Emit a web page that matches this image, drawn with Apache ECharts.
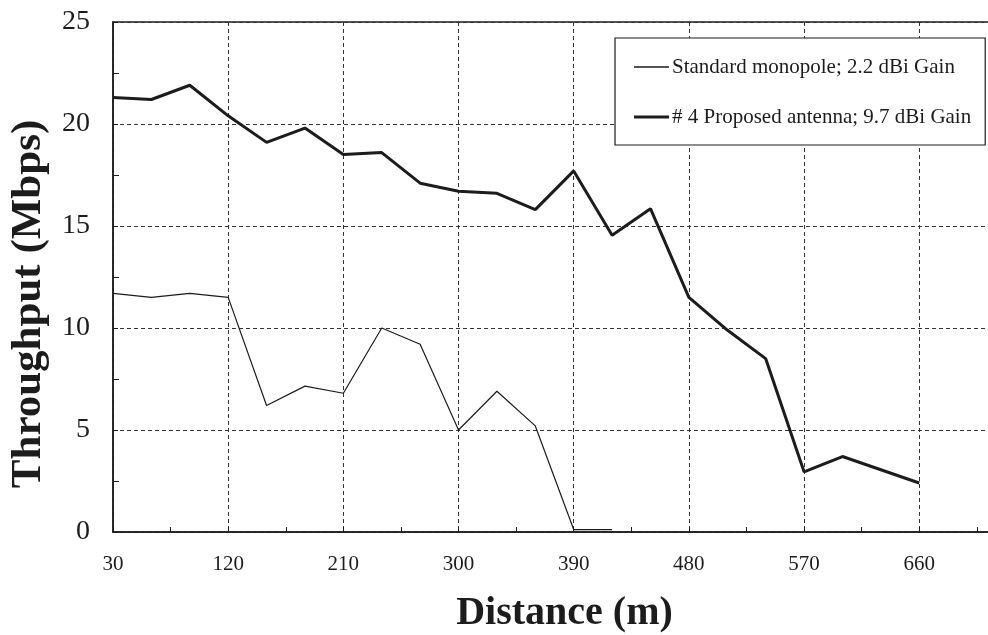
<!DOCTYPE html>
<html>
<head>
<meta charset="utf-8">
<script src="https://cdn.jsdelivr.net/npm/echarts@6/dist/echarts.min.js"></script>
<style>
  html, body { margin: 0; padding: 0; background: #fff; }
  #chart { width: 988px; height: 635px; }
</style>
</head>
<body>
<div id="chart"></div>
<script>
// Distances (m)
const distancesProposed = [30, 60, 90, 120, 150, 180, 210, 240, 270, 300, 330, 360, 390, 420, 450, 480, 510, 540, 570, 600, 630, 660];
const proposedThroughput = [21.3, 21.2, 21.9, 20.4, 19.1, 19.8, 18.5, 18.6, 17.1, 16.7, 16.6, 15.8, 17.7, 14.55, 15.85, 11.5, 9.9, 8.5, 2.95, 3.7, 3.05, 2.4];

const distancesStandard = [30, 60, 90, 120, 150, 180, 210, 240, 270, 300, 330, 360, 390, 420];
const standardThroughput = [11.7, 11.5, 11.7, 11.5, 6.2, 7.15, 6.8, 10.0, 9.2, 5.0, 6.9, 5.2, 0.12, 0.12];

const seriesNames = ['Standard monopole; 2.2 dBi Gain', '# 4 Proposed antenna; 9.7 dBi Gain'];
const xTitle = 'Distance (m)';
const yTitle = 'Throughput (Mbps)';

const serif = 'Liberation Serif, Times New Roman, serif';
const ink = '#1c1c1c';

const chart = echarts.init(document.getElementById('chart'), null, { renderer: 'canvas' });

chart.setOption({
  animation: false,
  backgroundColor: '#fff',
  grid: {
    left: 113, right: -8, top: 22, bottom: 103,
    containLabel: false,
    outerBoundsMode: 'none',
    show: true, borderColor: ink, borderWidth: 1.5, backgroundColor: 'transparent'
  },
  legend: {
    orient: 'vertical',
    left: 615, top: 38,
    backgroundColor: '#fff',
    borderColor: ink, borderWidth: 1.2,
    padding: [18, 14, 17, 19],
    itemWidth: 35, itemHeight: 14, itemGap: 28,
    itemStyle: { borderWidth: 0 },
    textStyle: { fontFamily: serif, fontSize: 21, color: ink, lineHeight: 22, padding: [0, 0, 0, -2] },
    data: [
      { name: seriesNames[0], icon: 'path://M0,0M35,14M0,6.3h35v1.4h-35z' },
      { name: seriesNames[1], icon: 'path://M0,0M35,14M0,5.5h35v3h-35z' }
    ]
  },
  xAxis: {
    type: 'value',
    min: 30, max: 720, interval: 90,
    name: xTitle,
    nameLocation: 'middle',
    nameGap: 62,
    nameTextStyle: { fontFamily: serif, fontSize: 40, fontWeight: 'bold', color: ink, padding: [0, 0, 0, 20] },
    axisLine: { show: true, lineStyle: { color: ink, width: 1.5 } },
    axisTick: { show: true, inside: true, length: 5, lineStyle: { color: ink } },
    minorTick: { show: true, splitNumber: 2, length: 5, lineStyle: { color: ink } },
    axisLabel: { fontFamily: serif, fontSize: 21, color: ink, margin: 22, showMaxLabel: false },
    splitLine: { show: true, lineStyle: { color: '#333', width: 1, type: [4, 3] } }
  },
  yAxis: {
    type: 'value',
    min: 0, max: 25, interval: 5,
    name: yTitle,
    nameLocation: 'middle',
    nameGap: 63,
    nameTextStyle: { fontFamily: serif, fontSize: 43, fontWeight: 'bold', color: ink, padding: [0, 54, 0, 0] },
    axisLine: { show: true, lineStyle: { color: ink, width: 1.5 } },
    axisTick: { show: true, inside: true, length: 5, lineStyle: { color: ink } },
    minorTick: { show: true, splitNumber: 2, length: 6, lineStyle: { color: ink } },
    axisLabel: { fontFamily: serif, fontSize: 28, color: ink, margin: 23 },
    splitLine: { show: true, lineStyle: { color: '#333', width: 1, type: [4, 3] } }
  },
  series: [
    {
      name: seriesNames[0],
      type: 'line',
      symbol: 'none',
      lineStyle: { color: ink, width: 1.2 },
      itemStyle: { color: ink },
      data: distancesStandard.map((d, i) => [d, standardThroughput[i]])
    },
    {
      name: seriesNames[1],
      type: 'line',
      symbol: 'none',
      lineStyle: { color: ink, width: 3 },
      itemStyle: { color: ink },
      data: distancesProposed.map((d, i) => [d, proposedThroughput[i]])
    }
  ]
});
</script>
</body>
</html>
